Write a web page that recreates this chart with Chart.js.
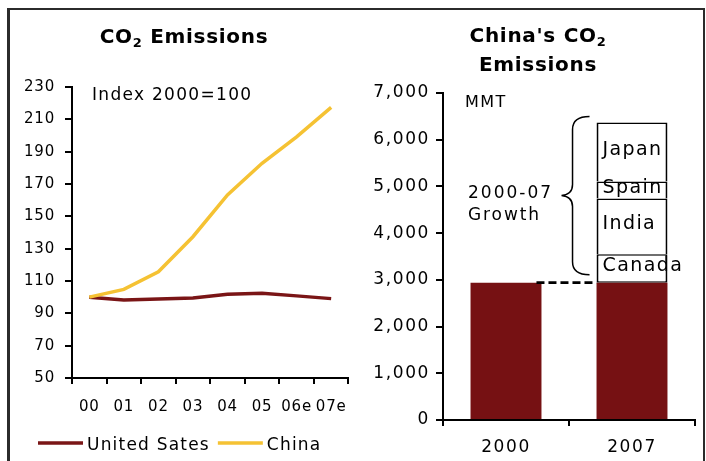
<!DOCTYPE html>
<html>
<head>
<meta charset="utf-8">
<script src="https://cdn.jsdelivr.net/npm/chart.js@4.4.1/dist/chart.umd.min.js"></script>
<style>
    html, body { margin: 0; padding: 0; background: #fff; }
    #page { position: relative; width: 706px; height: 461px; overflow: hidden; }
    #frame {
        position: absolute; left: 7px; top: 8px; width: 693px; height: 470px;
        border-left: 3px solid #2b2b2b; border-top: 2px solid #2b2b2b; border-right: 2px solid #2b2b2b;
    }
    #lineChart { position: absolute; left: 0; top: 0; }
    #barChart { position: absolute; left: 360px; top: 0; }
</style>
</head>
<body>
<div id="page">
    <div id="frame"></div>
    <canvas id="lineChart" width="360" height="461"></canvas>
    <canvas id="barChart" width="346" height="461"></canvas>
</div>
<script>

    /**
     * Data
     */

    // index, 2000 = 100
    var years = ['00', '01', '02', '03', '04', '05', '06e', '07e'];
    var usIndex = [100, 98.2, 98.8, 99.5, 101.8, 102.4, 100.8, 99.1];
    var chinaIndex = [100, 104.8, 115.7, 137.4, 163.2, 182.8, 199.2, 217.4];
    var indexMin = 50, indexMax = 230, indexStep = 20;

    // China, million metric tonnes
    var barYears = ['2000', '2007'];
    var chinaBase = [2940, 2940];
    var growthNames = ['Canada', 'India', 'Spain', 'Japan'];
    var growthValues = [610, 1190, 365, 1265];
    var mmtMin = 0, mmtMax = 7000, mmtStep = 1000;

    var DARK_RED = '#761113';
    var YELLOW = '#f5c233';
    var FONT = "'DejaVu Sans', Verdana, sans-serif";

    /**
     * Text helpers
     */

    function text(ctx, str, x, y, size, spacing, align, bold) {
        ctx.save();
        ctx.font = (bold ? 'bold ' : '') + size + 'px ' + FONT;
        ctx.letterSpacing = spacing + 'px';
        ctx.fillStyle = '#000';
        ctx.textAlign = align || 'left';
        ctx.textBaseline = 'alphabetic';
        ctx.fillText(str, x, y);
        ctx.restore();
    }

    // bold title line with an optional subscript "2"
    function titleLine(ctx, main, sub, tail, cx, y) {
        ctx.save();
        ctx.letterSpacing = '0.7px';
        ctx.font = 'bold 20px ' + FONT;
        var w1 = ctx.measureText(main).width;
        var w3 = tail ? ctx.measureText(tail).width : 0;
        ctx.font = 'bold 13px ' + FONT;
        var w2 = sub ? ctx.measureText(sub).width : 0;
        var x = cx - (w1 + w2 + w3) / 2;
        ctx.fillStyle = '#000';
        ctx.textAlign = 'left';
        ctx.font = 'bold 20px ' + FONT;
        ctx.fillText(main, x, y);
        if (sub) {
            ctx.font = 'bold 13px ' + FONT;
            ctx.fillText(sub, x + w1, y + 4);
        }
        if (tail) {
            ctx.font = 'bold 20px ' + FONT;
            ctx.fillText(tail, x + w1 + w2, y);
        }
        ctx.restore();
    }

    /**
     * Index line chart
     */

    var lineExtras = {
        id: 'lineExtras',
        beforeDraw: function (chart) {
            chart.ctx.letterSpacing = '0.8px';
        },
        afterDraw: function (chart) {
            var ctx = chart.ctx;
            titleLine(ctx, 'CO', '2', ' Emissions', 184, 43);
            text(ctx, 'Index 2000=100', 92, 100, 17, 1.3);

            // legend along the bottom
            var x = 38, y = 443;
            chart.data.datasets.forEach(function (ds) {
                ctx.save();
                ctx.strokeStyle = ds.borderColor;
                ctx.lineWidth = 3.5;
                ctx.beginPath();
                ctx.moveTo(x, y);
                ctx.lineTo(x + 45, y);
                ctx.stroke();
                ctx.font = '17px ' + FONT;
                ctx.letterSpacing = '1.2px';
                var w = ctx.measureText(ds.label).width;
                ctx.restore();
                text(ctx, ds.label, x + 49, y + 7, 17, 1.2);
                x += 49 + w + 8;
            });
        }
    };

    var axisFont = function (size) {
        return {family: FONT, size: size};
    };

    new Chart(document.getElementById('lineChart'), {
        type: 'line',
        data: {
            labels: years,
            datasets: [{
                label: 'United Sates',
                data: usIndex,
                borderColor: '#7a1516',
                borderWidth: 3.5,
                pointRadius: 0,
                tension: 0,
                order: 1
            }, {
                label: 'China',
                data: chinaIndex,
                borderColor: YELLOW,
                borderWidth: 3.5,
                pointRadius: 0,
                tension: 0,
                order: 0
            }]
        },
        options: {
            responsive: false,
            animation: false,
            events: [],
            layout: {padding: {left: 12, right: 11, top: 87, bottom: 43}},
            plugins: {legend: {display: false}, tooltip: {enabled: false}},
            scales: {
                x: {
                    offset: true,
                    grid: {offset: true, drawOnChartArea: false, tickLength: 6, color: '#000', lineWidth: 2},
                    border: {color: '#000', width: 2},
                    ticks: {font: axisFont(15), color: '#000', padding: 14, maxRotation: 0, autoSkip: false},
                    afterFit: function (s) { s.height = 40; }
                },
                y: {
                    min: indexMin,
                    max: indexMax,
                    grid: {drawOnChartArea: false, tickLength: 7, color: '#000', lineWidth: 2},
                    border: {color: '#000', width: 2},
                    ticks: {stepSize: indexStep, font: axisFont(15), color: '#000', padding: 10},
                    afterFit: function (s) { s.width = 60; }
                }
            }
        },
        plugins: [lineExtras]
    });

    /**
     * China MMT bar chart
     */

    var barExtras = {
        id: 'barExtras',
        beforeDraw: function (chart) {
            chart.ctx.letterSpacing = '1.6px';
        },
        afterDraw: function (chart) {
            var ctx = chart.ctx;
            var yScale = chart.scales.y;

            titleLine(ctx, "China's CO", '2', '', 178, 42);
            titleLine(ctx, 'Emissions', '', '', 178, 71);
            text(ctx, 'MMT', 105, 107, 16, 1.4);

            var first = chart.getDatasetMeta(0).data;
            var baseY = yScale.getPixelForValue(chinaBase[0]);
            var bar07 = first[1];
            var left07 = bar07.x - bar07.width / 2;
            var right00 = first[0].x + first[0].width / 2;

            // dashed guide from the 2000 bar to the 2007 bar
            ctx.save();
            ctx.strokeStyle = '#000';
            ctx.lineWidth = 2.6;
            ctx.setLineDash([8, 4]);
            ctx.beginPath();
            ctx.moveTo(right00 - 5, baseY);
            ctx.lineTo(left07, baseY);
            ctx.stroke();
            ctx.restore();

            // labels inside the growth boxes
            growthNames.forEach(function (name, i) {
                var el = chart.getDatasetMeta(i + 1).data[1];
                ctx.save();
                ctx.font = '19px ' + FONT;
                ctx.letterSpacing = '1.4px';
                ctx.fillStyle = '#000';
                ctx.textAlign = 'left';
                ctx.textBaseline = 'middle';
                ctx.fillText(name, el.x - el.width / 2 + 6, (el.y + el.base) / 2 - 2);
                ctx.restore();
            });

            // brace round the growth stack
            var total = chinaBase[1];
            growthValues.forEach(function (v) { total += v; });
            var top = yScale.getPixelForValue(total) - 6;
            var bottom = baseY - 8;
            var mid = (top + bottom) / 2;
            var xe = left07 - 7, xv = left07 - 24, xt = left07 - 35;
            ctx.save();
            ctx.strokeStyle = '#000';
            ctx.lineWidth = 1.5;
            ctx.beginPath();
            ctx.moveTo(xe, top);
            ctx.quadraticCurveTo(xv, top, xv, top + 13);
            ctx.lineTo(xv, mid - 11);
            ctx.quadraticCurveTo(xv, mid - 1, xt, mid);
            ctx.quadraticCurveTo(xv, mid + 1, xv, mid + 11);
            ctx.lineTo(xv, bottom - 13);
            ctx.quadraticCurveTo(xv, bottom, xe, bottom);
            ctx.stroke();
            ctx.restore();

            text(ctx, '2000-07', 108, 198, 17, 2);
            text(ctx, 'Growth', 108, 220, 17, 1.9);
        }
    };

    var barDatasets = [{
        label: 'China',
        data: chinaBase,
        backgroundColor: DARK_RED,
        borderWidth: 0
    }];
    growthNames.forEach(function (name, i) {
        barDatasets.push({
            label: name,
            data: [null, growthValues[i]],
            backgroundColor: '#fff',
            borderColor: '#000',
            borderWidth: {top: 1.5, bottom: i === 0 ? 1.5 : 0, left: 2, right: 2},
            borderSkipped: false
        });
    });

    new Chart(document.getElementById('barChart'), {
        type: 'bar',
        data: {labels: barYears, datasets: barDatasets},
        options: {
            responsive: false,
            animation: false,
            events: [],
            datasets: {bar: {barPercentage: 0.563, categoryPercentage: 1}},
            layout: {padding: {left: 3, right: 11, top: 93, bottom: 0}},
            plugins: {legend: {display: false}, tooltip: {enabled: false}},
            scales: {
                x: {
                    stacked: true,
                    grid: {offset: true, drawOnChartArea: false, tickLength: 6, color: '#000', lineWidth: 2},
                    border: {color: '#000', width: 2},
                    ticks: {font: axisFont(17), color: '#000', padding: 11, maxRotation: 0},
                    afterFit: function (s) { s.height = 41; }
                },
                y: {
                    stacked: true,
                    min: mmtMin,
                    max: mmtMax,
                    grid: {drawOnChartArea: false, tickLength: 7, color: '#000', lineWidth: 2},
                    border: {color: '#000', width: 2},
                    ticks: {
                        stepSize: mmtStep, font: axisFont(17), color: '#000', padding: 6,
                        callback: function (v) { return v.toLocaleString('en-US'); }
                    },
                    afterFit: function (s) { s.width = 80; }
                }
            }
        },
        plugins: [barExtras]
    });

</script>
</body>
</html>
